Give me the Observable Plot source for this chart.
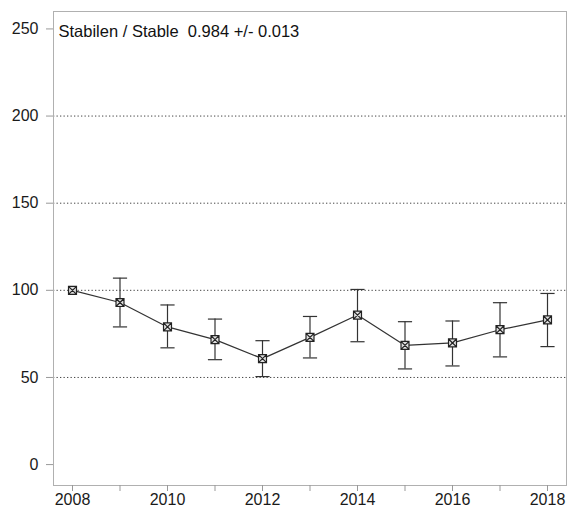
<!DOCTYPE html>
<html>
<head>
<meta charset="utf-8">
<script src="https://cdn.jsdelivr.net/npm/d3@7"></script>
<script src="https://cdn.jsdelivr.net/npm/@observablehq/plot@0.6"></script>
<style>
  html, body { margin: 0; padding: 0; background: #fff; }
</style>
</head>
<body>
<div id="chart"></div>
<script>
const years = [2008, 2009, 2010, 2011, 2012, 2013, 2014, 2015, 2016, 2017, 2018];
const indexValues = [100, 93, 79, 71.7, 60.8, 73, 85.8, 68.4, 69.8, 77.4, 83];
const lowerCI = [null, 79, 67, 60.2, 50.5, 61.2, 70.5, 54.9, 56.6, 61.8, 67.7];
const upperCI = [null, 107, 91.6, 83.5, 71.1, 85, 100.5, 82, 82.4, 92.9, 98.2];
const yTicks = [0, 50, 100, 150, 200, 250];
const gridLines = [50, 100, 150, 200];
const xLabelYears = [2008, 2010, 2012, 2014, 2016, 2018];
const titleText = "Stabilen / Stable\u00a0\u00a00.984 +/- 0.013";

const data = years.map((year, i) => ({
  year, value: indexValues[i], lo: lowerCI[i], hi: upperCI[i]
}));

const capSymbol = {
  draw(ctx, size) {
    const w = Math.sqrt(size) / 2;
    ctx.moveTo(-w, 0); ctx.lineTo(w, 0);
  }
};
const squareTimes = {
  draw(ctx, size) {
    const s = Math.sqrt(size) / 2;
    ctx.moveTo(-s, -s); ctx.lineTo(s, -s); ctx.lineTo(s, s); ctx.lineTo(-s, s); ctx.closePath();
    ctx.moveTo(-s, -s); ctx.lineTo(s, s);
    ctx.moveTo(s, -s); ctx.lineTo(-s, s);
  }
};

const chart = Plot.plot({
  width: 570,
  height: 511,
  marginLeft: 53,
  marginTop: 11,
  marginRight: 4,
  marginBottom: 26,
  x: { domain: [2007.6, 2018.4] },
  y: { domain: [-12, 260] },
  style: { fontFamily: "'Liberation Sans', Arial, sans-serif", fontSize: "16px", color: "#1a1a1a", background: "#fff" },
  marks: [
    Plot.ruleY(gridLines, { stroke: "#444", strokeDasharray: "1.3,2.2", strokeWidth: 1 }),
    Plot.frame({ stroke: "#b0b0b0" }),
    Plot.axisY({ ticks: yTicks, tickSize: 7, tickPadding: 8, label: null, stroke: "#999" }),
    Plot.axisX({ ticks: years, tickSize: 6, tickPadding: 2, label: null, stroke: "#999",
      tickFormat: d => xLabelYears.includes(d) ? String(d) : "" }),
    Plot.ruleX(data, { x: "year", y1: "lo", y2: "hi", stroke: "#333", strokeWidth: 1.2 }),
    Plot.dot(data, { x: "year", y: "lo", symbol: capSymbol, r: 8, stroke: "#333", strokeWidth: 1.2 }),
    Plot.dot(data, { x: "year", y: "hi", symbol: capSymbol, r: 8, stroke: "#333", strokeWidth: 1.2 }),
    Plot.line(data, { x: "year", y: "value", stroke: "#333", strokeWidth: 1.2 }),
    Plot.dot(data, { x: "year", y: "value", symbol: squareTimes, r: 4.5, fill: "#e0e0e0", stroke: "#222", strokeWidth: 1.2 }),
    Plot.text([titleText], { frameAnchor: "top-left", dx: 5, dy: 20, lineAnchor: "middle", textAnchor: "start", fontSize: 16.5, fill: "#111" })
  ]
});
document.getElementById("chart").append(chart);
</script>
</body>
</html>
